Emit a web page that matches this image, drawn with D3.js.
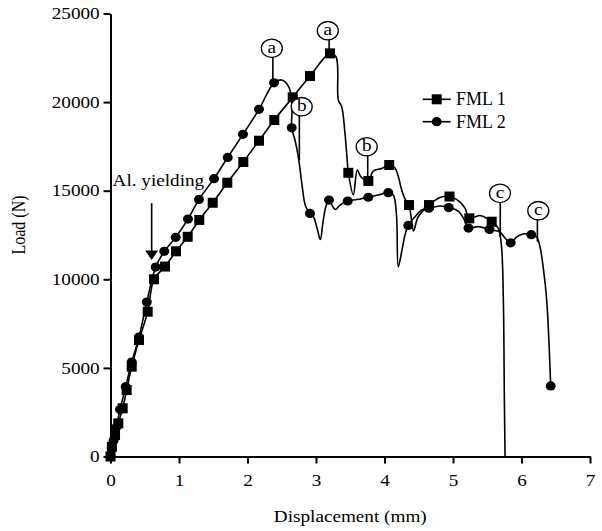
<!DOCTYPE html>
<html>
<head>
<meta charset="utf-8">
<script src="https://cdn.jsdelivr.net/npm/d3@7"></script>
<style>
  html, body { margin: 0; padding: 0; background: #fff; }
  svg { display: block; }
  text { font-family: "Liberation Serif", "Times New Roman", serif; fill: #000; }
</style>
</head>
<body>
<svg id="chart" width="602" height="531"></svg>
<script>
// ---------------- data ----------------
const xTicks = [0, 1, 2, 3, 4, 5, 6, 7];
const yTicks = [0, 5000, 10000, 15000, 20000, 25000];
const seriesNames = ["FML 1", "FML 2"];

// FML 1 (squares): marker points [displacement mm, load N]
const fml1Markers = [[0,0],[0.02,550],[0.066,1210],[0.114,1870],[0.178,2720],[0.236,3750],[0.31,5070],[0.416,6570],[0.543,8170],[0.635,10000],[0.796,10720],[0.956,11580],[1.127,12400],[1.296,13350],[1.492,14320],[1.705,15450],[1.939,16620],[2.168,17820],[2.391,18990],[2.66,20270],[2.912,21470],[3.204,22750],[3.472,16010],[3.764,15550],[4.069,16450],[4.358,14190],[4.65,14190],[4.949,14670],[5.238,13440],[5.565,13250]];
// FML 1 traced curve
const fml1Curve = [[0,0],[0.02,550],[0.066,1210],[0.114,1870],[0.178,2720],[0.236,3750],[0.31,5070],[0.416,6570],[0.543,8170],[0.635,10000],[0.796,10720],[0.956,11580],[1.127,12400],[1.296,13350],[1.492,14320],[1.705,15450],[1.939,16620],[2.168,17820],[2.391,18990],[2.66,20270],[2.912,21470],[3.204,22750],[3.292,22560],[3.326,20120],[3.375,19740],[3.423,18240],[3.463,16350],[3.472,16010],[3.545,14760],[3.603,16170],[3.657,15770],[3.764,15550],[3.836,16110],[3.959,16250],[4.069,16450],[4.153,16280],[4.204,15770],[4.251,15040],[4.314,14420],[4.358,14190],[4.394,13350],[4.423,12730],[4.493,13530],[4.65,14190],[4.81,14620],[4.949,14670],[5.102,14360],[5.175,14020],[5.238,13440],[5.394,13600],[5.565,13250],[5.661,12880],[5.708,11840],[5.735,8830],[5.75,3190],[5.76,0]];

// FML 2 (circles): marker points
const fml2Markers = [[0,0],[0.02,450],[0.045,900],[0.085,1650],[0.14,2650],[0.222,3940],[0.31,5330],[0.416,6740],[0.53,8720],[0.66,10690],[0.785,11580],[0.952,12370],[1.131,13400],[1.292,14510],[1.511,15680],[1.711,16880],[1.934,18180],[2.168,19590],[2.387,21090],[2.645,18550],[2.912,13720],[3.19,14470],[3.463,14420],[3.764,14630],[4.055,14890],[4.347,13040],[4.645,14010],[4.937,14050],[5.226,12890],[5.533,12810],[5.842,12060],[6.143,12520],[6.426,3980]];
// FML 2 traced curve
const fml2Curve = [[0,0],[0.02,450],[0.045,900],[0.085,1650],[0.14,2650],[0.222,3940],[0.31,5330],[0.416,6740],[0.53,8720],[0.66,10690],[0.785,11580],[0.952,12370],[1.131,13400],[1.292,14510],[1.511,15680],[1.711,16880],[1.934,18180],[2.168,19590],[2.387,21090],[2.499,21250],[2.577,21020],[2.628,20570],[2.65,19670],[2.645,18550],[2.693,17860],[2.745,16840],[2.796,15320],[2.847,14140],[2.912,13720],[2.964,13520],[3.015,12890],[3.063,12250],[3.102,13230],[3.146,14140],[3.19,14470],[3.248,14080],[3.285,13940],[3.35,14190],[3.463,14420],[3.599,14500],[3.764,14630],[3.909,14760],[4.055,14890],[4.128,14760],[4.175,13630],[4.201,10710],[4.255,11650],[4.299,12500],[4.347,13040],[4.445,13530],[4.543,13910],[4.645,14010],[4.81,14140],[4.937,14050],[5.077,13850],[5.175,13290],[5.226,12890],[5.369,12970],[5.533,12810],[5.686,12670],[5.759,12330],[5.842,12060],[5.93,12390],[6.022,12560],[6.143,12520],[6.222,12390],[6.27,11840],[6.318,10640],[6.368,8830],[6.406,6010],[6.426,3980]];

// circled stage labels: [letter, label centre x, label centre y, leader x, leader end y]
const stageLabels = [
  ["a", 2.355, 23035, 2.37, 21090],
  ["a", 3.172, 24030, 3.192, 22750],
  ["b", 2.791, 19740, 2.757, 16730],
  ["b", 3.74, 17480, 3.755, 15550],
  ["c", 5.686, 14850, 5.69, 12400],
  ["c", 6.245, 13870, 6.232, 12120]
];

// Al. yielding annotation: [text, text x, text baseline y, arrow x, arrow top y, arrow tip y]
const yieldNote = ["Al. yielding", 0.03, 15265, 0.601, 14300, 11090];

// ---------------- chart ----------------
const svg = d3.select("#chart");
const SX = 1.2; // horizontal stretch of the original typography
const x = d3.scaleLinear().domain([0, 7]).range([110.5, 590]);
const y = d3.scaleLinear().domain([0, 25000]).range([456.5, 13.5]);

// axes
const xAxis = svg.append("g").attr("transform", `translate(0,${y(0)})`)
  .call(d3.axisBottom(x).tickValues(xTicks).tickSize(7).tickSizeOuter(0).tickPadding(11).tickFormat(d3.format("d")));
const yAxis = svg.append("g").attr("transform", `translate(${x(0)},0)`)
  .call(d3.axisLeft(y).tickValues(yTicks).tickSize(7).tickSizeOuter(0).tickPadding(2).tickFormat(d3.format("d")));
[xAxis, yAxis].forEach(g => {
  g.select(".domain").attr("stroke", "#000").attr("stroke-width", 2);
  g.selectAll(".tick line").attr("stroke", "#000").attr("stroke-width", 2);
  g.selectAll(".tick text").attr("font-family", "Liberation Serif, serif").attr("font-size", 16)
    .attr("fill", "#000").attr("transform", `scale(${SX},1)`);
});

// axis titles
svg.append("text").attr("transform", `translate(${(x(0) + x(7)) / 2},522) scale(${SX},1)`)
  .attr("text-anchor", "middle").attr("font-size", 16).text("Displacement (mm)");
svg.append("text").attr("transform", `translate(25,${(y(0) + y(25000)) / 2 - 10}) scale(${SX},1) rotate(-90)`)
  .attr("text-anchor", "middle").attr("font-size", 16).text("Load (N)");

// curves
const line = d3.line().x(d => x(d[0])).y(d => y(d[1])).curve(d3.curveCatmullRom.alpha(0.5));
[fml1Curve, fml2Curve].forEach(c => {
  svg.append("path").datum(c).attr("d", line).attr("fill", "none")
    .attr("stroke", "#000").attr("stroke-width", 1.6).attr("stroke-linejoin", "round");
});

// markers
svg.append("g").selectAll("rect").data(fml1Markers).join("rect")
  .attr("x", d => x(d[0]) - 5).attr("y", d => y(d[1]) - 5)
  .attr("width", 10).attr("height", 10).attr("fill", "#000");
svg.append("g").selectAll("ellipse").data(fml2Markers).join("ellipse")
  .attr("cx", d => x(d[0])).attr("cy", d => y(d[1]))
  .attr("rx", 5).attr("ry", 4.6).attr("fill", "#000");

// stage labels
const lab = svg.append("g").selectAll("g").data(stageLabels).join("g");
lab.append("line")
  .attr("x1", d => x(d[3])).attr("x2", d => x(d[3]))
  .attr("y1", d => y(d[2]) + 9).attr("y2", d => y(d[4]))
  .attr("stroke", "#000").attr("stroke-width", 1.6);
lab.append("ellipse")
  .attr("cx", d => x(d[1])).attr("cy", d => y(d[2]))
  .attr("rx", 10.5).attr("ry", 9.2)
  .attr("fill", "#fff").attr("stroke", "#000").attr("stroke-width", 1.3);
lab.append("text")
  .attr("transform", d => `translate(${x(d[1])},${y(d[2]) + 4.5}) scale(${SX},1)`)
  .attr("text-anchor", "middle").attr("font-size", 16).text(d => d[0]);

// Al. yielding
svg.append("text")
  .attr("transform", `translate(${x(yieldNote[1])},${y(yieldNote[2])}) scale(${SX},1)`)
  .attr("font-size", 16).text(yieldNote[0]);
const ax = x(yieldNote[3]), aTop = y(yieldNote[4]), aTip = y(yieldNote[5]);
svg.append("line").attr("x1", ax).attr("x2", ax).attr("y1", aTop).attr("y2", aTip - 8)
  .attr("stroke", "#000").attr("stroke-width", 1.6);
svg.append("path")
  .attr("d", `M${ax - 6.5},${aTip - 9.5}L${ax + 6.5},${aTip - 9.5}L${ax},${aTip}Z`)
  .attr("fill", "#000");

// legend
const legend = svg.append("g").attr("transform", "translate(422.7,99.3)");
seriesNames.forEach((name, i) => {
  const g = legend.append("g").attr("transform", `translate(0,${i * 22.4})`);
  g.append("line").attr("x1", 0).attr("x2", 28).attr("y1", 0).attr("y2", 0)
    .attr("stroke", "#000").attr("stroke-width", 1.6);
  if (i === 0) g.append("rect").attr("x", 9).attr("y", -5).attr("width", 10).attr("height", 10).attr("fill", "#000");
  else g.append("ellipse").attr("cx", 14).attr("cy", 0).attr("rx", 5).attr("ry", 4.6).attr("fill", "#000");
  g.append("text").attr("x", 33.3).attr("y", 6).attr("font-size", 18).text(name);
});
</script>
</body>
</html>
